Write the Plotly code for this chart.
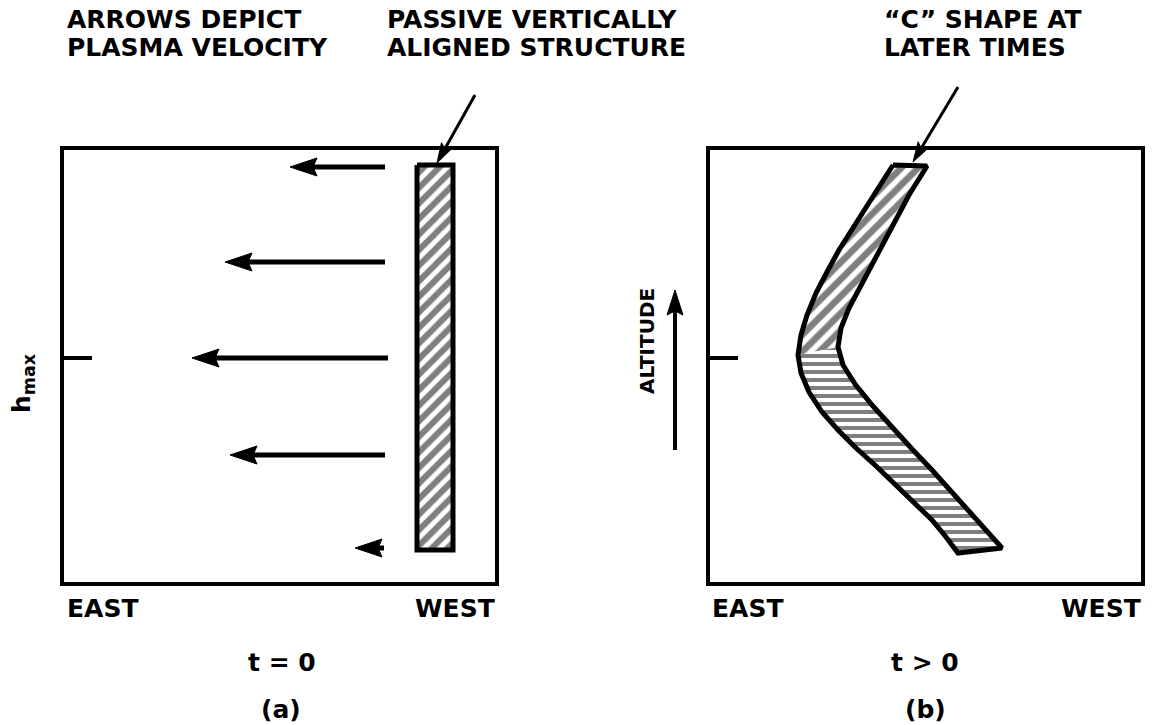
import numpy as np
import plotly.graph_objects as go

# ---------------------------------------------------------------------------
# Diagram geometry (pixel space of the 1161 x 725 page, y grows downward)
# ---------------------------------------------------------------------------
W, H = 1161, 725

# frames of panel (a) and (b): [x0, x1], [y0, y1]
panel_a_x = [62, 497]
panel_b_x = [708, 1143]
panel_y = [148, 584]
hmax_y = 358

# plasma velocity arrows in panel (a)
vel_y = [167, 262, 358, 455, 548]
vel_tail_x = [385, 385, 388, 385, 384]
vel_tip_x = [290, 225, 192, 230, 355]

# passive vertically aligned structure (t = 0)
bar_x = [417, 453]
bar_y = [165, 550]

# "C" shaped structure (t > 0): outer (east) edge top->bottom, inner edge bottom->top
c_outer_x = [893, 880, 866, 852, 839, 827, 816, 807, 801, 798, 801, 809, 822,
             838, 856, 876, 895, 914, 932, 946, 958]
c_outer_y = [165, 185, 207, 228, 250, 272, 293, 315, 335, 355, 373, 392, 412,
             430, 448, 466, 484, 502, 520, 537, 553]
c_inner_x = [1002, 986, 969, 951, 932, 912, 892, 872, 855, 843, 838, 841, 849,
             860, 872, 884, 896, 909, 927]
c_inner_y = [548, 530, 511, 491, 470, 449, 427, 405, 384, 365, 347, 328, 308,
             287, 264, 241, 218, 195, 166]

FONT = dict(family="DejaVu Sans", size=25, color="black", weight="bold")

fig = go.Figure()


def add_arrow(x0, y0, x1, y1, width=5, head_len=27, head_half=9):
    """Line from (x0, y0) to a filled head tipped at (x1, y1)."""
    d = np.array([x1 - x0, y1 - y0], dtype=float)
    d /= np.hypot(*d)
    n = np.array([-d[1], d[0]])
    tip = np.array([x1, y1], dtype=float)
    base = tip - d * head_len
    fig.add_trace(go.Scatter(
        x=[x0, base[0] + d[0] * 4], y=[y0, base[1] + d[1] * 4], mode="lines",
        line=dict(color="black", width=width), hoverinfo="skip"))
    p1 = base + n * head_half
    p2 = base - n * head_half
    notch = base + d * 4
    fig.add_trace(go.Scatter(
        x=[tip[0], p1[0], notch[0], p2[0], tip[0]],
        y=[tip[1], p1[1], notch[1], p2[1], tip[1]],
        mode="lines", fill="toself", fillcolor="black",
        line=dict(color="black", width=1), hoverinfo="skip"))


def hatched(xs, ys, shape, size, solidity, outline=True):
    fig.add_trace(go.Scatter(
        x=xs, y=ys, mode="lines", fill="toself", fillcolor="white",
        fillpattern=dict(shape=shape, size=size, solidity=solidity,
                         fgcolor="black", fillmode="overlay"),
        line=dict(color="black", width=5 if outline else 0),
        hoverinfo="skip"))


# panel frames and h_max ticks
for px in (panel_a_x, panel_b_x):
    fig.add_shape(type="rect", x0=px[0], x1=px[1], y0=panel_y[0], y1=panel_y[1],
                  line=dict(color="black", width=4))
    fig.add_shape(type="line", x0=px[0], x1=px[0] + 30, y0=hmax_y, y1=hmax_y,
                  line=dict(color="black", width=4))

# velocity arrows
for y, xt, xh in zip(vel_y, vel_tail_x, vel_tip_x):
    add_arrow(xt, y, xh, y)

# vertical structure
hatched([bar_x[0], bar_x[1], bar_x[1], bar_x[0], bar_x[0]],
        [bar_y[0], bar_y[0], bar_y[1], bar_y[1], bar_y[0]], "/", 11, 0.55)

# "C" shape: upper half diagonal hatch, lower half near-horizontal hatch
so, si = 9, 10  # apex indices on outer / inner edge
hatched(c_outer_x[:so + 1] + c_inner_x[si:] + [c_outer_x[0]],
        c_outer_y[:so + 1] + c_inner_y[si:] + [c_outer_y[0]],
        "/", 12, 0.55, outline=False)
hatched(c_outer_x[so:] + c_inner_x[:si + 1] + [c_outer_x[so]],
        c_outer_y[so:] + c_inner_y[:si + 1] + [c_outer_y[so]],
        "-", 8, 0.5, outline=False)
fig.add_trace(go.Scatter(
    x=c_outer_x + c_inner_x + [c_outer_x[0]],
    y=c_outer_y + c_inner_y + [c_outer_y[0]],
    mode="lines", line=dict(color="black", width=5), hoverinfo="skip"))

# pointer arrows and altitude arrow
add_arrow(475, 95, 437, 163, width=3, head_len=20, head_half=6)
add_arrow(958, 87, 913, 162, width=3, head_len=20, head_half=6)
add_arrow(675, 450, 675, 290, width=4, head_len=25, head_half=8)

# text
labels = [
    ("ARROWS DEPICT", 65, 19, "left", 0),
    ("PLASMA VELOCITY", 65, 47, "left", 0),
    ("PASSIVE VERTICALLY", 385, 19, "left", 0),
    ("ALIGNED STRUCTURE", 385, 47, "left", 0),
    ("\u201cC\u201d SHAPE AT", 882, 19, "left", 0),
    ("LATER TIMES", 882, 47, "left", 0),
    ("EAST", panel_a_x[0] + 3, 608, "left", 0),
    ("WEST", panel_a_x[1], 608, "right", 0),
    ("EAST", panel_b_x[0] + 2, 608, "left", 0),
    ("WEST", panel_b_x[1], 608, "right", 0),
    ("t = 0", 282, 662, "center", 0),
    ("t > 0", 925, 662, "center", 0),
    ("(a)", 281, 709, "center", 0),
    ("(b)", 925, 709, "center", 0),
    ("h<sub>max</sub>", 23, 383, "center", -90),
]
for text, x, y, anchor, angle in labels:
    fig.add_annotation(x=x, y=y, text=text, showarrow=False, xanchor=anchor,
                       yanchor="middle", textangle=angle, font=FONT)
fig.add_annotation(x=647, y=341, text="ALTITUDE", showarrow=False,
                   textangle=-90, font=dict(FONT, size=20))

fig.update_layout(
    width=W, height=H,
    margin=dict(l=0, r=0, t=0, b=0),
    paper_bgcolor="white", plot_bgcolor="white",
    showlegend=False,
    xaxis=dict(range=[0, W], visible=False, fixedrange=True),
    yaxis=dict(range=[H, 0], visible=False, fixedrange=True),
)

fig.write_html("out.html", config={"displayModeBar": False},
               post_script="document.body.style.margin = '0';")
